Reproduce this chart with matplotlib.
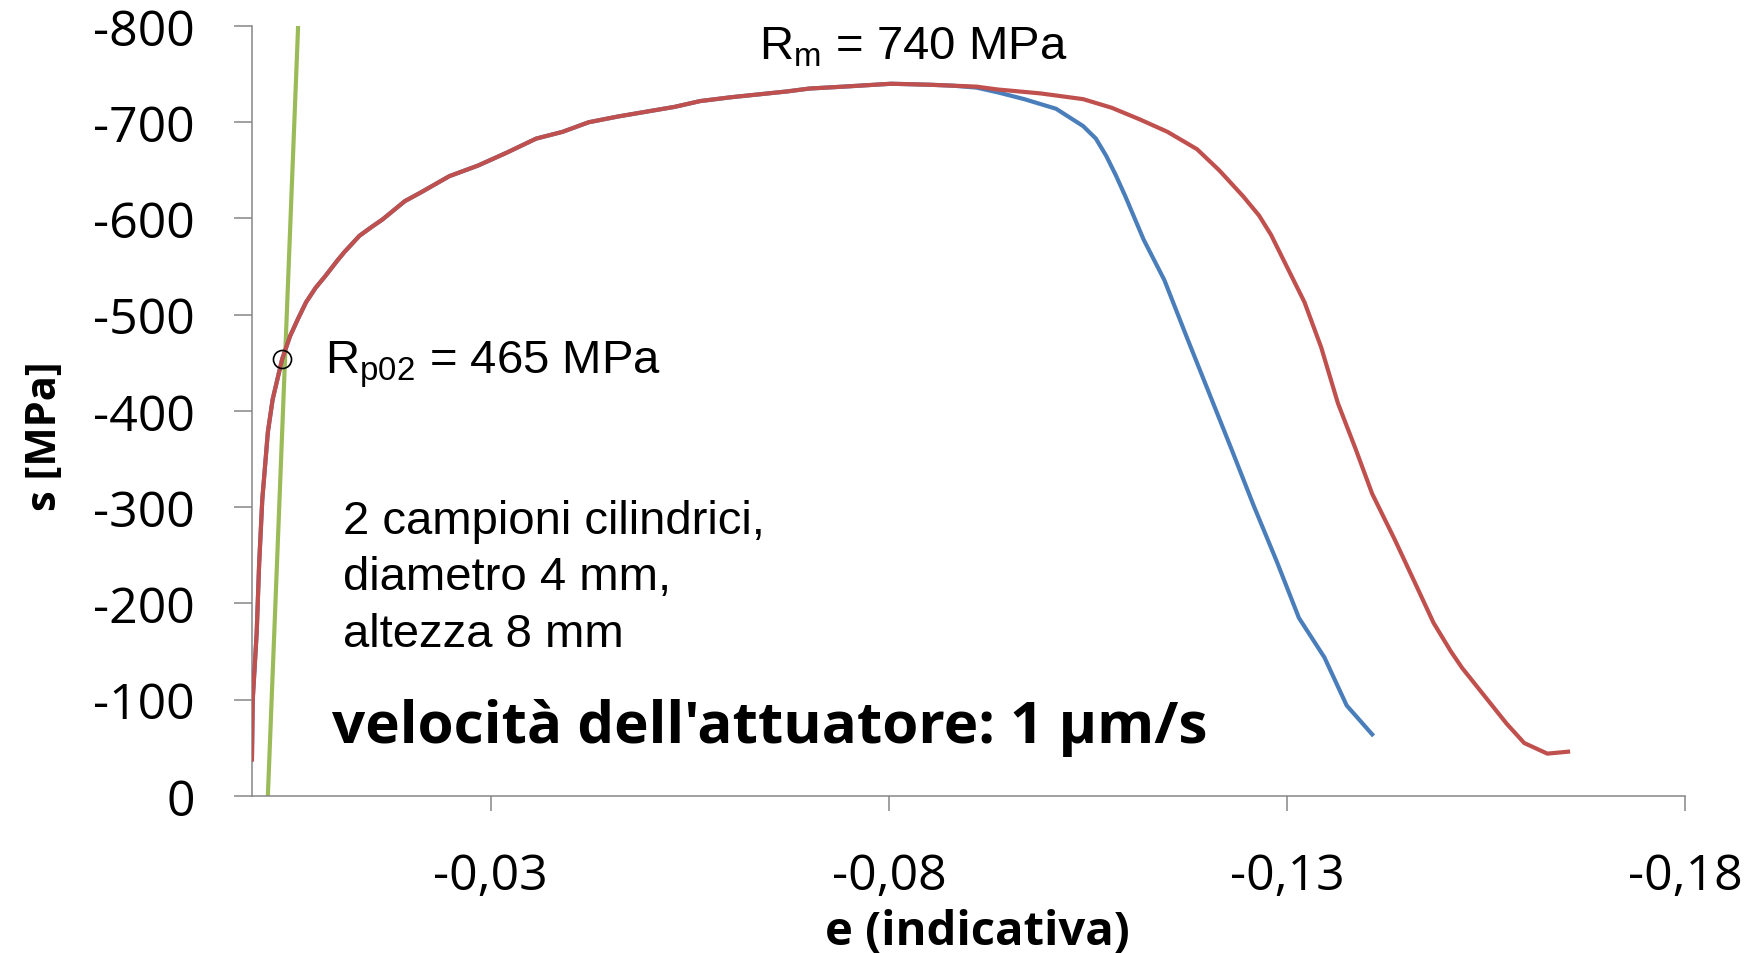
import numpy as np
import matplotlib
matplotlib.use("Agg")
import matplotlib.pyplot as plt

# common part of the two curves (elastic + hardening), strain / stress [MPa]
e_common = [0.0, -0.0001, -0.0006, -0.0009, -0.0013, -0.0020, -0.0026, -0.0038, -0.0048,
            -0.0058, -0.0068, -0.0080, -0.0092, -0.0107, -0.0116, -0.0135, -0.0150,
            -0.0164, -0.0192, -0.0212, -0.0248, -0.0284, -0.0319, -0.0357, -0.0390,
            -0.0423, -0.0460, -0.0531, -0.0563, -0.0602, -0.0672, -0.0700, -0.0743,
            -0.0803, -0.0850, -0.0880]
s_common = [-38, -100, -170, -240, -308, -378, -412, -454, -478,
            -496, -513, -528, -540, -556, -565, -582, -591,
            -599, -618, -627, -644, -655, -668, -683, -690,
            -700, -706, -716, -722, -726, -732, -735, -737,
            -740, -739, -738]

# sample 1 (blue) after necking
e_blue = [-0.0910, -0.0937, -0.0970, -0.1010, -0.1044, -0.1060, -0.1073, -0.1085,
          -0.1097, -0.1120, -0.1146, -0.1174, -0.1202, -0.1230, -0.1258, -0.1287,
          -0.1315, -0.1347, -0.1375, -0.1407]
s_blue = [-736, -731, -724, -714, -696, -683, -665, -645,
          -623, -578, -536, -477, -419, -361, -302, -244,
          -185, -144, -94, -64]

# sample 2 (red) after necking
e_red = [-0.0910, -0.0937, -0.0990, -0.1044, -0.1080, -0.1115, -0.1150, -0.1187,
         -0.1215, -0.1245, -0.1265, -0.1280, -0.1301, -0.1322, -0.1343, -0.1364,
         -0.1386, -0.1407, -0.1435, -0.1461, -0.1484, -0.1506, -0.1520, -0.1548,
         -0.1576, -0.1598, -0.1627, -0.1653]
s_red = [-737, -734, -730, -724, -715, -703, -690, -672,
         -650, -623, -603, -583, -548, -513, -466, -408,
         -361, -314, -267, -221, -180, -150, -133, -104,
         -75, -55, -44, -46]

# 0.2% offset line
e_green = [-0.0020, -0.0058]
s_green = [0, -800]

# Rp02 point
rp_e = [-0.0038]
rp_s = [-454]

y_ticks = [0, -100, -200, -300, -400, -500, -600, -700, -800]
x_ticks = [-0.03, -0.08, -0.13, -0.18]
x_ticklabels = ['-0,03', '-0,08', '-0,13', '-0,18']

plt.rcParams['mathtext.fontset'] = 'custom'
plt.rcParams['mathtext.rm'] = 'Liberation Sans'
plt.rcParams['mathtext.it'] = 'Liberation Sans'

fig = plt.figure(figsize=(17.63, 9.54), dpi=100)
ax = fig.add_axes([0.1429, 0.1646, 0.8129, 0.8071])

ax.plot(e_common + e_blue, s_common + s_blue, color='#4a7ebb', lw=3, zorder=3)
ax.plot(e_common + e_red, s_common + s_red, color='#c0504d', lw=3, zorder=4)
ax.plot(e_green, s_green, color='#9bbb59', lw=3, zorder=2)
ax.plot(rp_e, rp_s, 'o', ms=13, mfc='none', mec='black', mew=1.2, zorder=5)

ax.set_xlim(0, -0.18)
ax.set_ylim(0, -800)
ax.set_xticks(x_ticks)
ax.set_xticklabels(x_ticklabels)
ax.set_yticks(y_ticks)
ax.set_yticklabels([str(v) for v in y_ticks])

gray = '#868686'
for side in ['top', 'right']:
    ax.spines[side].set_visible(False)
for side in ['left', 'bottom']:
    ax.spines[side].set_color(gray)
    ax.spines[side].set_linewidth(1.1)
ax.tick_params(axis='y', direction='out', length=13, width=1.1, color=gray, pad=28,
               labelsize=36)
ax.tick_params(axis='x', direction='out', length=11, width=1.1, color=gray, pad=29,
               labelsize=36)
for lab in ax.get_xticklabels() + ax.get_yticklabels():
    lab.set_family('Open Sans')

ax.set_xlabel('e (indicativa)', family='Open Sans', fontweight='bold', fontsize=34)
ax.xaxis.set_label_coords(0.506, -0.145)
ax.set_ylabel('s [MPa]', family='Open Sans', fontweight='bold', fontsize=30)
ax.yaxis.set_label_coords(-0.13, 0.469)

ax.text(-0.0637, -766, r'R$_\mathrm{m}$ = 740 MPa', family='Liberation Sans',
        fontsize=34, va='baseline')
ax.text(-0.00917, -440, r'R$_\mathrm{p02}$ = 465 MPa', family='Liberation Sans',
        fontsize=34, va='baseline')
ax.text(-0.01143, -156, '2 campioni cilindrici,\ndiametro 4 mm,\naltezza 8 mm',
        family='Liberation Sans', fontsize=34, va='baseline', linespacing=1.37)
ax.text(-0.01005, -56, "velocità dell'attuatore: 1 µm/s", family='Open Sans',
        fontweight='bold', fontsize=42, va='baseline')

fig.savefig('out.png', dpi=100)
